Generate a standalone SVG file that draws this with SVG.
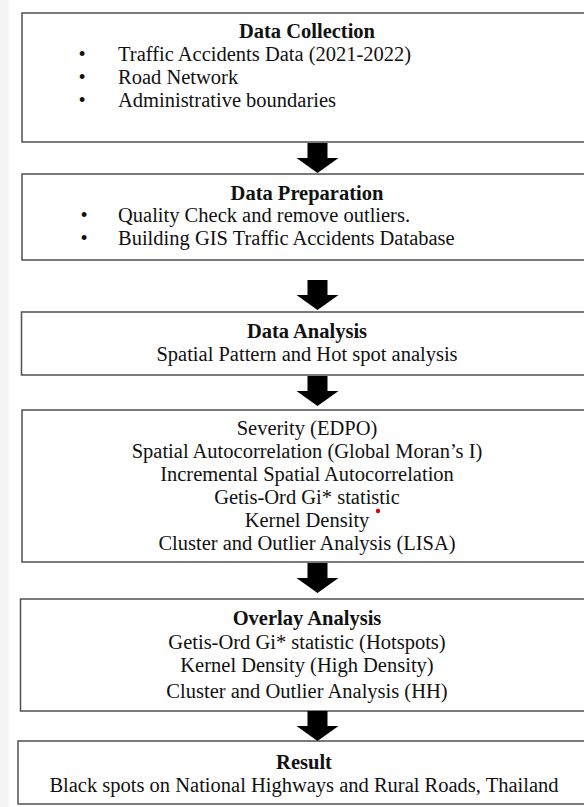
<svg xmlns="http://www.w3.org/2000/svg" width="584" height="807" viewBox="0 0 584 807">
  <defs>
    <style>
      .box { fill: #ffffff; stroke: #505050; stroke-width: 1.5; }
      .t { font-size: 20.5px; fill: #111111; }
      .c { text-anchor: middle; }
      .b { font-weight: bold; }
      .arrow { fill: #000000; }
    </style>
    <path id="arr" d="M -10 0 H 10 V 15 H 21 L 0 30 L -21 15 H -10 Z"/>
  </defs>
  <rect x="0" y="0" width="584" height="807" fill="#ffffff"/>
  <rect x="0" y="0" width="8.7" height="807" fill="#f3f3f3"/>

  <g font-family="'Liberation Serif', 'Times New Roman', Tinos, 'Nimbus Roman', 'DejaVu Serif', serif">
  <g id="node-data-collection">
    <rect class="box" x="22" y="13" width="570" height="129"/>
    <text class="t c b" x="307" y="38">Data Collection</text>
    <text class="t c" x="82" y="61">•</text>
    <text class="t" x="118" y="61">Traffic Accidents Data (2021-2022)</text>
    <text class="t c" x="82" y="84">•</text>
    <text class="t" x="118" y="84">Road Network</text>
    <text class="t c" x="82" y="107">•</text>
    <text class="t" x="118" y="107">Administrative boundaries</text>
  </g>

  <g id="node-data-preparation">
    <rect class="box" x="22" y="174" width="570" height="86"/>
    <text class="t c b" x="307" y="200">Data Preparation</text>
    <text class="t c" x="84" y="222">•</text>
    <text class="t" x="118" y="222">Quality Check and remove outliers.</text>
    <text class="t c" x="84" y="245">•</text>
    <text class="t" x="118" y="245">Building GIS Traffic Accidents Database</text>
  </g>

  <g id="node-data-analysis">
    <rect class="box" x="21.5" y="312" width="570" height="63"/>
    <text class="t c b" x="307" y="338">Data Analysis</text>
    <text class="t c" x="307" y="361">Spatial Pattern and Hot spot analysis</text>
  </g>

  <g id="node-methods">
    <rect class="box" x="22" y="410" width="570" height="152"/>
    <text class="t c" x="307" y="435">Severity (EDPO)</text>
    <text class="t c" x="307" y="458">Spatial Autocorrelation (Global Moran’s I)</text>
    <text class="t c" x="307" y="481">Incremental Spatial Autocorrelation</text>
    <text class="t c" x="307" y="504">Getis-Ord Gi* statistic</text>
    <text class="t c" x="307" y="527">Kernel Density</text>
    <text class="t c" x="307" y="550">Cluster and Outlier Analysis (LISA)</text>
    <circle cx="378" cy="511" r="2.2" fill="#e00000"/>
  </g>

  <g id="node-overlay-analysis">
    <rect class="box" x="20.5" y="599" width="570" height="112"/>
    <text class="t c b" x="307" y="625">Overlay Analysis</text>
    <text class="t c" x="307" y="649">Getis-Ord Gi* statistic (Hotspots)</text>
    <text class="t c" x="307" y="672">Kernel Density (High Density)</text>
    <text class="t c" x="307" y="698">Cluster and Outlier Analysis (HH)</text>
  </g>

  <g id="node-result">
    <rect class="box" x="18" y="741" width="572" height="63"/>
    <text class="t c b" x="304" y="769">Result</text>
    <text class="t c" x="304" y="792">Black spots on National Highways and Rural Roads, Thailand</text>
  </g>
  </g>

  <g id="connectors">
    <use href="#arr" class="arrow" x="317.5" y="143"/>
    <use href="#arr" class="arrow" x="317.5" y="280"/>
    <use href="#arr" class="arrow" x="317.5" y="376"/>
    <use href="#arr" class="arrow" x="317.5" y="563"/>
    <use href="#arr" class="arrow" x="317.5" y="711"/>
  </g>
</svg>
